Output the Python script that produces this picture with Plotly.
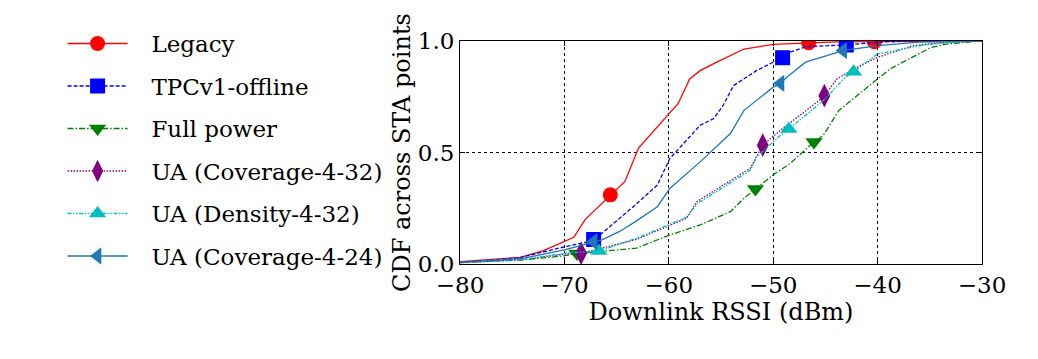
"""
Downlink RSSI CDF across STA points
Legacy / TPCv1-offline / Full power / UA variants
"""

import plotly.graph_objects as go

# ===== data =====
legacy_x = [-80, -74.2, -72.0, -70.0, -69.1, -68.0, -65.6, -64.2, -62.9, -59.1, -58.0, -57.0,
            -55.4, -52.8, -50.0, -46.6, -44.0, -40.3, -30]
legacy_y = [0.01, 0.03, 0.06, 0.10, 0.12, 0.20, 0.31, 0.37, 0.52, 0.72, 0.83, 0.867,
            0.905, 0.964, 0.985, 0.992, 0.996, 0.997, 1.0]
legacy_marks = [6, 15, 17]

tpc_x = [-80, -74.4, -70.0, -67.7, -67.2, -66.6, -63.2, -61.1, -59.9, -57.0, -55.7, -54.8,
         -53.8, -51.6, -50.0, -49.1, -48.4, -46.8, -43.0, -40.0, -37.0, -30]
tpc_y = [0.007, 0.027, 0.077, 0.10, 0.11, 0.13, 0.265, 0.354, 0.473, 0.622, 0.652, 0.711,
         0.80, 0.867, 0.905, 0.925, 0.95, 0.975, 0.982, 0.995, 1.0, 1.0]
tpc_marks = [4, 15, 18]

full_x = [-80, -74.0, -70.0, -68.8, -63.1, -59.9, -57.0, -54.1, -52.8, -51.7, -50.0, -48.4,
          -46.1, -45.2, -43.7, -40.0, -38.8, -34.9, -33.3, -30]
full_y = [0.006, 0.018, 0.037, 0.047, 0.071, 0.13, 0.175, 0.235, 0.295, 0.336, 0.40, 0.45,
          0.547, 0.577, 0.689, 0.83, 0.875, 0.971, 0.987, 1.0]
full_marks = [3, 9, 12]

cov32_x = [-80, -74.0, -69.9, -68.4, -63.1, -59.9, -58.3, -57.3, -54.1, -52.2, -51.0, -49.3,
           -45.8, -45.1, -43.9, -42.0, -40.0, -36.6, -33.5, -30]
cov32_y = [0.006, 0.02, 0.045, 0.048, 0.11, 0.175, 0.205, 0.28, 0.372, 0.429, 0.533, 0.60,
           0.726, 0.755, 0.83, 0.882, 0.927, 0.979, 0.995, 1.0]
cov32_marks = [3, 10, 13]

den32_x = [-80, -74.0, -69.9, -66.7, -63.1, -59.9, -58.3, -57.3, -54.1, -52.2, -51.6, -49.3,
           -48.5, -46.1, -45.2, -43.1, -42.3, -40.0, -35.6, -32.0, -30]
den32_y = [0.006, 0.02, 0.048, 0.058, 0.115, 0.18, 0.21, 0.27, 0.365, 0.42, 0.48, 0.577,
           0.605, 0.696, 0.733, 0.837, 0.862, 0.942, 0.982, 0.997, 1.0]
den32_marks = [3, 12, 16]

cov24_x = [-80, -74.0, -69.9, -67.2, -66.4, -64.7, -63.2, -61.1, -59.9, -57.0, -54.1, -52.8,
           -50.0, -49.3, -48.7, -46.9, -43.3, -40.0, -36.0, -30]
cov24_y = [0.007, 0.025, 0.064, 0.10, 0.108, 0.146, 0.19, 0.257, 0.339, 0.458, 0.585, 0.689,
           0.793, 0.81, 0.837, 0.905, 0.957, 0.979, 0.995, 1.0]
cov24_marks = [3, 13, 16]

series_names = ["Legacy", "TPCv1-offline", "Full power", "UA (Coverage-4-32)",
                "UA (Density-4-32)", "UA (Coverage-4-24)"]

x_ticks = [-80, -70, -60, -50, -40, -30]
x_ticktext = ["\u221280", "\u221270", "\u221260", "\u221250", "\u221240", "\u221230"]
y_ticks = [0.0, 0.5, 1.0]
y_ticktext = ["0.0", "0.5", "1.0"]

FONT = "DejaVu Serif"

# 样式：颜色 / 线型 / 标记
styles = [
    dict(color="#FF0000", dash="solid", symbol="circle", size=15),
    dict(color="#0000FF", dash="4px,2px", symbol="square", size=15),
    dict(color="#008000", dash="6px,2px,1.5px,2px", symbol="triangle-down", size=15),
    dict(color="#800080", dash="1.5px,1.5px", symbol="diamond-tall", size=17),
    dict(color="#00BFBF", dash="4px,1.5px,1.5px,1.5px,1.5px,1.5px", symbol="triangle-up", size=15),
    dict(color="#1F77B4", dash="solid", symbol="triangle-left", size=15),
]

data = [
    (legacy_x, legacy_y, legacy_marks),
    (tpc_x, tpc_y, tpc_marks),
    (full_x, full_y, full_marks),
    (cov32_x, cov32_y, cov32_marks),
    (den32_x, den32_y, den32_marks),
    (cov24_x, cov24_y, cov24_marks),
]

fig = go.Figure()

for name, (xs, ys, marks), st in zip(series_names, data, styles):
    line = dict(color=st["color"], width=1.3, dash=st["dash"])
    marker = dict(symbol=st["symbol"], size=st["size"], color=st["color"], line=dict(width=0))
    # 曲线
    fig.add_trace(go.Scatter(x=xs, y=ys, mode="lines", line=line,
                             legendgroup=name, showlegend=False, hoverinfo="skip"))
    # markevery: 只在指定点画标记
    fig.add_trace(go.Scatter(x=[xs[i] for i in marks], y=[ys[i] for i in marks],
                             mode="markers", marker=marker,
                             legendgroup=name, showlegend=False, name=name))
    # 图例项（线 + 标记）
    fig.add_trace(go.Scatter(x=[None], y=[None], mode="lines+markers",
                             line=line, marker=marker, legendgroup=name,
                             name="\u2002\u00a0" + name))

fig.update_layout(
    width=1030,
    height=351,
    paper_bgcolor="#FFFFFF",
    plot_bgcolor="#FFFFFF",
    font=dict(family=FONT, color="#000000", size=23),
    margin=dict(l=452, r=56, t=33, b=95),
    showlegend=True,
    legend=dict(
        xref="container", yref="container",
        x=0.053, y=0.96,
        xanchor="left", yanchor="top",
        itemwidth=60,
        tracegroupgap=9.6,
        maxheight=1,
        font=dict(family=FONT, size=23, color="#000000"),
        bgcolor="rgba(0,0,0,0)",
    ),
)

fig.update_xaxes(
    range=[-80, -30],
    tickvals=x_ticks, ticktext=x_ticktext,
    showgrid=True, gridcolor="#000000", gridwidth=1, griddash="dot",
    zeroline=False, automargin=False,
    showline=True, linecolor="#000000", linewidth=1, mirror="ticks",
    ticks="inside", ticklen=5, tickcolor="#000000",
    title=dict(text="Downlink RSSI (dBm)", standoff=2, font=dict(size=24)),
)

fig.update_yaxes(
    range=[0, 1],
    tickvals=y_ticks, ticktext=y_ticktext,
    showgrid=True, gridcolor="#000000", gridwidth=1, griddash="dot",
    zeroline=False, automargin=False,
    showline=True, linecolor="#000000", linewidth=1, mirror="ticks",
    ticks="inside", ticklen=5, tickcolor="#000000",
    title=dict(text="CDF across STA points", standoff=4, font=dict(size=24)),
)

fig.write_html("out.html")
